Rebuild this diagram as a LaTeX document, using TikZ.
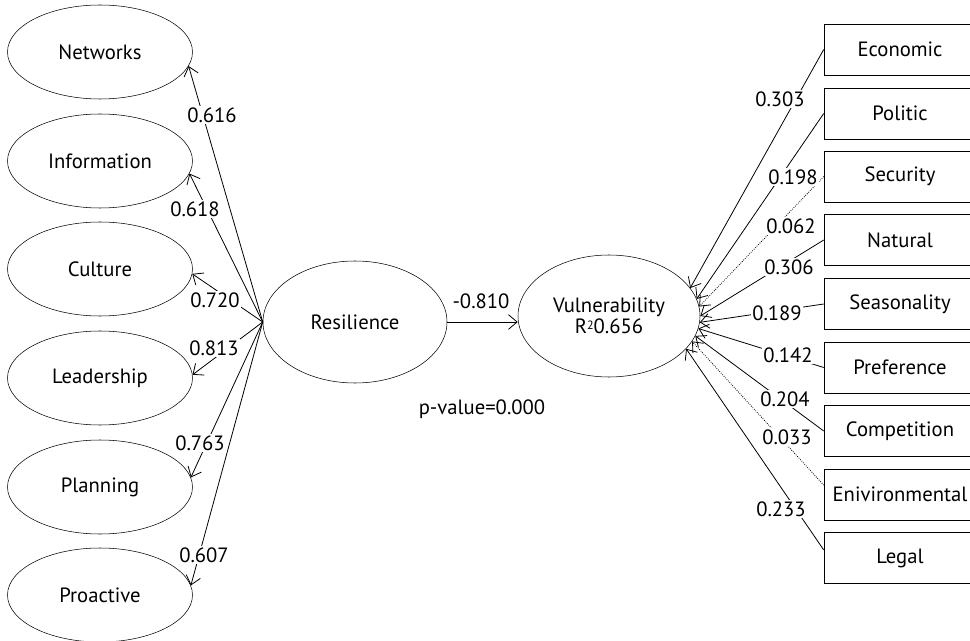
\documentclass[tikz,border=0pt]{standalone}
\usepackage{fontspec}
\setmainfont{PT Sans}
\usetikzlibrary{shapes.geometric,arrows.meta}

\tikzset{
  construct/.style={draw, ellipse, inner sep=0pt, minimum width=138.75pt, minimum height=70.5pt, font=\fontsize{15.5}{18}\selectfont},
  latentbig/.style={construct, minimum height=91.5pt},
  indicator/.style={draw, rectangle, inner sep=0pt, minimum width=114pt, minimum height=38.25pt, font=\fontsize{15.5}{18}\selectfont},
  path/.style={-{Straight Barb[length=6.5pt,width=11pt]}, line width=0.6pt},
  weak/.style={path, densely dotted},
  coef/.style={fill=white, inner sep=1pt, font=\fontsize{15.5}{18}\selectfont},
}

\begin{document}
\begin{tikzpicture}[x=0.75pt,y=-0.75pt]
\useasboundingbox (0,0) rectangle (970,641);

% resilience dimensions
\node[construct] (net) at (100,52) {Networks};
\node[construct] (inf) at (100,161) {Information};
\node[construct] (cul) at (100,269) {Culture};
\node[construct] (lea) at (100,378) {Leadership};
\node[construct] (pla) at (100,487) {Planning};
\node[construct] (pro) at (100,595) {Proactive};

% latent variables
\node[latentbig, minimum width=138pt] (res) at (355,322) {Resilience};
\node[latentbig, minimum width=136.5pt, align=center, font=\fontsize{15.5}{15.75}\selectfont] (vul) at (609,316) {Vulnerability\\R{\fontsize{9}{9}\selectfont\raisebox{0.75ex}{2}}0.656};

% vulnerability indicators
\node[indicator] (eco) at (900,49.5) {Economic};
\node[indicator] (pol) at (900,113.5) {Politic};
\node[indicator] (sec) at (900,176.5) {Security};
\node[indicator] (nat) at (900,240) {Natural};
\node[indicator] (sea) at (900,304) {Seasonality};
\node[indicator] (pre) at (900,367.5) {Preference};
\node[indicator] (com) at (900,431) {Competition};
\node[indicator] (env) at (900,494.5) {Enivironmental};
\node[indicator] (leg) at (900,558) {Legal};

% loadings
\draw[path] (res.west) -- (net.-9);
\draw[path] (res.west) -- (inf.-8);
\draw[path] (res.west) -- (cul.-3);
\draw[path] (res.west) -- (lea.2);
\draw[path] (res.west) -- (pla.6);
\draw[path] (res.west) -- (pro.6);

\draw[path] (res.east) -- (vul.west |- res.east);

\draw[path] (eco.west) -- (vul.19);
\draw[path] (pol.west) -- (vul.11);
\draw[weak] (sec.west) -- (vul.6);
\draw[path] (nat.west) -- (vul.0);
\draw[path] (sea.west) -- (vul.-4);
\draw[path] (pre.west) -- (vul.-8);
\draw[path] (com.west) -- (vul.-13);
\draw[weak] (env.173) -- (vul.-17);
\draw[path] (leg.174) -- (vul.-23);

% coefficients
\node[coef] (c1) at (212,115) {0.616};
\node[coef] (c2) at (195,209) {0.618};
\node[coef] (c3) at (215,300) {0.720};
\node[coef] (c4) at (214,348) {0.813};
\node[coef] (c5) at (200,443) {0.763};
\node[coef] (c6) at (204,555) {0.607};

\node[coef] (b) at (481,301) {-0.810};
\node[coef] (p) at (482,409) {p-value=0.000};

\node[coef] (d1) at (780,99) {0.303};
\node[coef] (d2) at (793,177) {0.198};
\node[coef] (d3) at (791,226) {0.062};
\node[coef] (d4) at (789,267) {0.306};
\node[coef] (d5) at (777,313) {0.189};
\node[coef] (d6) at (788,355) {0.142};
\node[coef] (d7) at (785,399) {0.204};
\node[coef] (d8) at (787,437) {0.033};
\node[coef] (d9) at (781,509) {0.233};
\end{tikzpicture}
\end{document}
